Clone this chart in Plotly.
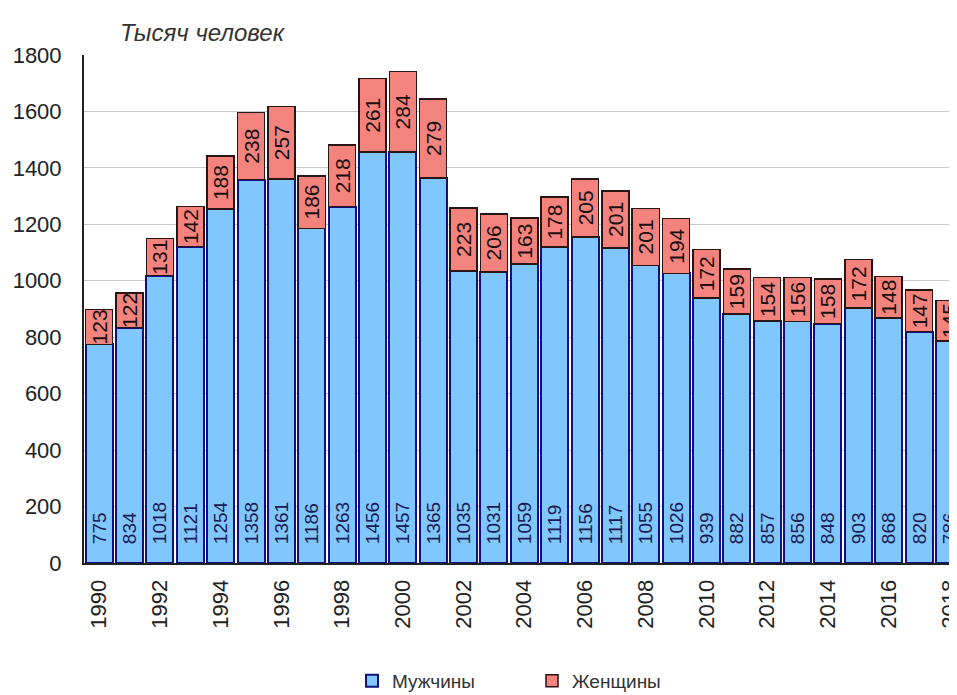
import plotly.graph_objects as go

years = list(range(1990, 2019))
men = [775, 834, 1018, 1121, 1254, 1358, 1361, 1186, 1263, 1456, 1457, 1365, 1035, 1031,
       1059, 1119, 1156, 1117, 1055, 1026, 939, 882, 857, 856, 848, 903, 868, 820, 786]
women = [123, 122, 131, 142, 188, 238, 257, 186, 218, 261, 284, 279, 223, 206,
         163, 178, 205, 201, 201, 194, 172, 159, 154, 156, 158, 172, 148, 147, 145]
tick_years = years[::2]
y_ticks = list(range(0, 1801, 200))
title_text = "Тысяч человек"
men_name = "Мужчины"
women_name = "Женщины"

FONT = "Arial, Liberation Sans, sans-serif"
W, H = 949, 692  # page body has an 8px margin
NB = "\u00a0"

fig = go.Figure()
fig.add_trace(go.Bar(
    x=years, y=men, name=men_name,
    marker=dict(color="#80C6FF", line=dict(color="#101080", width=2)),
    text=[NB * 3 + str(v) for v in men], textposition="inside", insidetextanchor="start",
    textangle=-90, constraintext="none",
    textfont=dict(family=FONT, size=19, color="#1a1a50"),
))
fig.add_trace(go.Bar(
    x=years, y=women, name=women_name,
    marker=dict(color="#F4837E", line=dict(color="#2a1515", width=1.5)),
    text=[str(v) for v in women], textposition="inside", insidetextanchor="middle",
    textangle=-90, constraintext="none",
    textfont=dict(family=FONT, size=21, color="#1a1010"),
))

fig.update_layout(
    barmode="stack",
    bargap=0.11,
    width=W, height=H,
    margin=dict(l=76, r=0, t=47, b=H - 555),
    paper_bgcolor="white", plot_bgcolor="white",
    font=dict(family=FONT, color="#333333"),
    title=dict(text=title_text, x=112/W, xref="container", xanchor="left",
               y=1 - 25/H, yanchor="middle",
               font=dict(family=FONT, size=24, style="italic", color="#333333")),
    legend=dict(orientation="h", x=0.307, xanchor="left", yref="container",
                y=0.0, yanchor="bottom",
                entrywidth=135, entrywidthmode="pixels", traceorder="normal",
                font=dict(family=FONT, size=19, color="#333333")),
    showlegend=True,
)
fig.update_xaxes(
    range=[1989.5, 2018.25], tickmode="array", tickvals=tick_years,
    ticktext=[str(y) for y in tick_years], tickangle=-90,
    tickfont=dict(family=FONT, size=22, color="#222222"),
    showline=True, linecolor="#222222", linewidth=2, showgrid=False,
    ticks="", ticklen=0, ticklabelstandoff=6, automargin=False,
    ticklabeloverflow="allow",
)
fig.update_yaxes(
    range=[0, 1800], tickmode="array", tickvals=y_ticks,
    tickfont=dict(family=FONT, size=22, color="#222222"),
    showline=True, linecolor="#222222", linewidth=2,
    showgrid=True, gridcolor="#c8c8c8", gridwidth=1, zeroline=False,
    ticks="", ticklen=0, ticklabelstandoff=16, automargin=False,
)

fig.write_html("out.html")
